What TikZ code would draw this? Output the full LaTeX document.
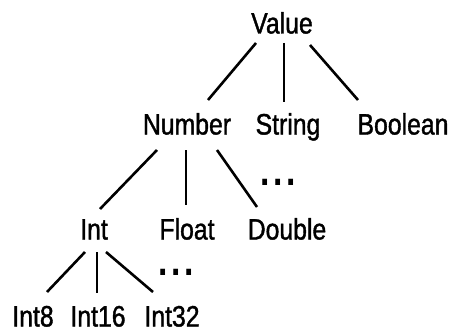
\documentclass[tikz,border=0pt]{standalone}
\usepackage{fontspec}
\setmainfont[FakeStretch=0.84,FakeBold=1.3]{Liberation Sans}
\newfontfamily\dotfont[FakeStretch=0.8]{Liberation Sans Bold}
\begin{document}
\begin{tikzpicture}[x=1pt,y=-1pt,
  typename/.style={inner sep=0pt, text height=21pt, text depth=0pt,
    font=\fontsize{29.5}{29.5}\selectfont},
  more/.style={inner sep=0pt, font=\dotfont\fontsize{42}{42}\selectfont},
  branch/.style={line width=2.6pt, line cap=butt}]
\useasboundingbox (0,0) rectangle (454,334);

% type names
\node[typename] (value)   at (282,23)  {Value};
\node[typename] (number)  at (187,124) {Number};
\node[typename] (string)  at (288,124) {String};
\node[typename] (boolean) at (403,124) {Boolean};
\node[typename] (int)     at (94,229)  {Int};
\node[typename] (float)   at (187,229) {Float};
\node[typename] (double)  at (287,229) {Double};
\node[typename] (int8)    at (33,316)  {Int8};
\node[typename] (int16)   at (98,316)  {Int16};
\node[typename] (int32)   at (172,316) {Int32};

% further subtypes left out
\node[more, anchor=base] (moreNumber) at (278,185) {.\hspace{3.5pt}.\hspace{3.5pt}.};
\node[more, anchor=base] (moreInt)    at (176,275) {.\hspace{3.5pt}.\hspace{3.5pt}.};

% Value
\draw[branch] ([shift={(-26,20)}]value.center) -- ([shift={(21,-24)}]number.center);
\draw[branch] ([shift={(2,20)}]value.center)   -- ([shift={(-4,-22)}]string.center);
\draw[branch] ([shift={(28,22)}]value.center)  -- ([shift={(-45,-24)}]boolean.center);
% Number
\draw[branch] ([shift={(-30,26)}]number.center) -- ([shift={(6,-20)}]int.center);
\draw[branch] ([shift={(-1,26)}]number.center)  -- ([shift={(-1,-24)}]float.center);
\draw[branch] ([shift={(30,26)}]number.center)  -- ([shift={(-30,-22)}]double.center);
% Int
\draw[branch] ([shift={(-9,23)}]int.center) -- ([shift={(14,-24)}]int8.center);
\draw[branch] ([shift={(3,23)}]int.center)  -- ([shift={(-1,-23)}]int16.center);
\draw[branch] ([shift={(12,23)}]int.center) -- ([shift={(-19,-24)}]int32.center);
\end{tikzpicture}
\end{document}
